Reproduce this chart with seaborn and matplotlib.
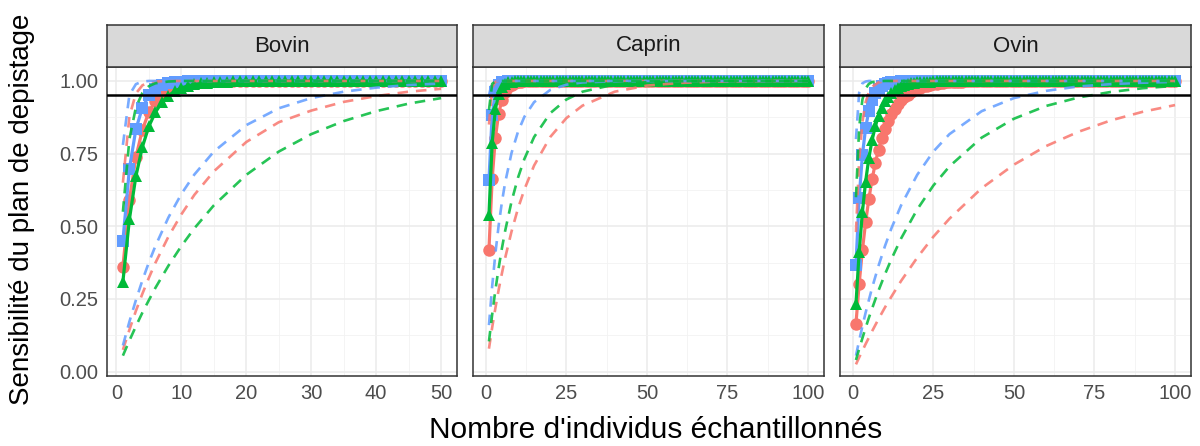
import matplotlib
matplotlib.use("Agg")
import matplotlib.pyplot as plt
import pandas as pd
import seaborn as sns

especes = ["Bovin", "Caprin", "Ovin"]
groupes = ["rouge", "bleu", "vert"]
couleurs = {"rouge": "#F8766D", "bleu": "#619CFF", "vert": "#00BA38"}
formes = {"rouge": "o", "bleu": "s", "vert": "^"}

# estimation centrale : un point par individu echantillonne (n = 1, 2, 3, ...)
bovin_rouge = [0.36, 0.59, 0.738, 0.832, 0.893, 0.931, 0.956, 0.972, 0.982, 0.988,
               0.993, 0.995, 0.997, 0.998, 0.999] + [1.0] * 35
bovin_bleu = [0.45, 0.698, 0.834, 0.908, 0.95, 0.972, 0.985, 0.992, 0.995, 0.997,
              0.999] + [1.0] * 39
bovin_vert = [0.31, 0.524, 0.672, 0.773, 0.844, 0.892, 0.926, 0.949, 0.965, 0.976,
              0.983, 0.988, 0.992, 0.994, 0.996, 0.997, 0.998, 0.999] + [1.0] * 32

caprin_rouge = [0.42, 0.664, 0.805, 0.887, 0.934, 0.962, 0.978, 0.987, 0.993, 0.996,
                0.998, 0.999] + [1.0] * 88
caprin_bleu = [0.66, 0.884, 0.961, 0.987, 0.995, 0.998, 0.999] + [1.0] * 93
caprin_vert = [0.54, 0.788, 0.903, 0.955, 0.979, 0.991, 0.996, 0.998, 0.999] + [1.0] * 91

ovin_rouge = [0.165, 0.303, 0.418, 0.514, 0.594, 0.661, 0.717, 0.764, 0.803, 0.835,
              0.862, 0.885, 0.904, 0.920, 0.933, 0.944, 0.953, 0.961, 0.968, 0.973,
              0.977, 0.981, 0.984, 0.987, 0.989, 0.991, 0.992, 0.994, 0.995, 0.996,
              0.997, 0.997, 0.998, 0.998, 0.999, 0.999] + [1.0] * 64
ovin_bleu = [0.366, 0.598, 0.745, 0.838, 0.898, 0.935, 0.959, 0.974, 0.983, 0.990,
             0.993, 0.996, 0.997, 0.998, 0.999] + [1.0] * 85
ovin_vert = [0.233, 0.412, 0.549, 0.654, 0.735, 0.796, 0.844, 0.880, 0.908, 0.930,
             0.946, 0.959, 0.968, 0.976, 0.981, 0.986, 0.989, 0.992, 0.994, 0.995,
             0.996, 0.997, 0.998, 0.998, 0.999] + [1.0] * 75

# bornes (pointilles), lues aux effectifs suivants
n_bovin = [1, 2, 3, 4, 5, 6, 8, 10, 12, 15, 20, 25, 30, 35, 40, 45, 50]
n_large = [1, 2, 3, 4, 5, 6, 8, 10, 12, 15, 20, 25, 30, 40, 50, 60, 70, 80, 90, 100]

bovin_bas_rouge = [0.075, 0.144, 0.209, 0.268, 0.323, 0.374, 0.464, 0.541, 0.608, 0.689,
                   0.790, 0.858, 0.898, 0.928, 0.948, 0.963, 0.973]
bovin_bas_bleu = [0.09, 0.172, 0.246, 0.314, 0.376, 0.432, 0.530, 0.611, 0.678, 0.757,
                  0.848, 0.906, 0.941, 0.963, 0.977, 0.986, 0.991]
bovin_bas_vert = [0.055, 0.107, 0.156, 0.203, 0.246, 0.288, 0.364, 0.432, 0.493, 0.572,
                  0.677, 0.757, 0.817, 0.862, 0.896, 0.922, 0.941]
bovin_haut_rouge = [0.65, 0.878, 0.957, 0.985, 0.995, 0.998] + [1.0] * 11
bovin_haut_bleu = [0.78, 0.952, 0.989, 0.998] + [1.0] * 13
bovin_haut_vert = [0.55, 0.80, 0.909, 0.959, 0.982, 0.992, 0.998] + [1.0] * 10

caprin_bas_rouge = [0.079, 0.152, 0.219, 0.281, 0.337, 0.390, 0.482, 0.561, 0.627, 0.709,
                    0.807, 0.872, 0.915, 0.963, 0.984, 0.993, 0.997, 0.999, 1.0, 1.0]
caprin_bas_bleu = [0.16, 0.294, 0.407, 0.502, 0.582, 0.649, 0.752, 0.825, 0.877, 0.927,
                   0.969, 0.987, 0.995, 0.999] + [1.0] * 6
caprin_bas_vert = [0.104, 0.197, 0.281, 0.356, 0.423, 0.483, 0.585, 0.667, 0.732, 0.807,
                   0.889, 0.936, 0.963, 0.988, 0.996, 0.999] + [1.0] * 4
caprin_haut_rouge = [0.85, 0.978, 0.997] + [1.0] * 17
caprin_haut_bleu = [0.95, 0.998] + [1.0] * 18
caprin_haut_vert = [0.90, 0.99, 0.999] + [1.0] * 17

ovin_bas_rouge = [0.025, 0.049, 0.072, 0.095, 0.117, 0.139, 0.181, 0.221, 0.258, 0.312,
                  0.392, 0.464, 0.526, 0.631, 0.712, 0.776, 0.825, 0.864, 0.894, 0.917]
ovin_bas_bleu = [0.055, 0.107, 0.156, 0.203, 0.246, 0.288, 0.364, 0.432, 0.493, 0.572,
                 0.677, 0.757, 0.817, 0.896, 0.941, 0.966, 0.981, 0.989, 0.994, 0.997]
ovin_bas_vert = [0.04, 0.078, 0.115, 0.151, 0.185, 0.217, 0.279, 0.335, 0.387, 0.458,
                 0.558, 0.640, 0.706, 0.805, 0.870, 0.914, 0.943, 0.962, 0.975, 0.983]
ovin_haut_rouge = [0.48, 0.73, 0.859, 0.927, 0.962, 0.980, 0.995, 0.999] + [1.0] * 12
ovin_haut_bleu = [0.80, 0.96, 0.992, 0.998] + [1.0] * 16
ovin_haut_vert = [0.60, 0.84, 0.936, 0.974, 0.99, 0.996, 0.999] + [1.0] * 13

seuil = 0.95

central = {
    "Bovin": {"rouge": bovin_rouge, "bleu": bovin_bleu, "vert": bovin_vert},
    "Caprin": {"rouge": caprin_rouge, "bleu": caprin_bleu, "vert": caprin_vert},
    "Ovin": {"rouge": ovin_rouge, "bleu": ovin_bleu, "vert": ovin_vert},
}
bornes = {
    "Bovin": (n_bovin, {"bas": {"rouge": bovin_bas_rouge, "bleu": bovin_bas_bleu, "vert": bovin_bas_vert},
                        "haut": {"rouge": bovin_haut_rouge, "bleu": bovin_haut_bleu, "vert": bovin_haut_vert}}),
    "Caprin": (n_large, {"bas": {"rouge": caprin_bas_rouge, "bleu": caprin_bas_bleu, "vert": caprin_bas_vert},
                         "haut": {"rouge": caprin_haut_rouge, "bleu": caprin_haut_bleu, "vert": caprin_haut_vert}}),
    "Ovin": (n_large, {"bas": {"rouge": ovin_bas_rouge, "bleu": ovin_bas_bleu, "vert": ovin_bas_vert},
                       "haut": {"rouge": ovin_haut_rouge, "bleu": ovin_haut_bleu, "vert": ovin_haut_vert}}),
}

rows = []
for esp in especes:
    for g in groupes:
        vals = central[esp][g]
        for n, v in zip(range(1, len(vals) + 1), vals):
            rows.append((esp, g, n, v))
df_central = pd.DataFrame(rows, columns=["espece", "groupe", "n", "se"])

rows = []
for esp in especes:
    ns, d = bornes[esp]
    for b in ["bas", "haut"]:
        for g in groupes:
            for n, v in zip(ns, d[b][g]):
                rows.append((esp, g, b, n, v))
df_bornes = pd.DataFrame(rows, columns=["espece", "groupe", "borne", "n", "se"])

sns.set_style("white")
plt.rcParams["font.family"] = ["Liberation Sans", "DejaVu Sans"]

W, H = 1200, 446
fig = plt.figure(figsize=(12, 4.46), dpi=100)
panneaux = {"Bovin": (107, 457), "Caprin": (473, 824), "Ovin": (840, 1191)}
top, bottom, strip_top = 67, 376, 25
grey20 = "#333333"

for i, esp in enumerate(especes):
    x0, x1 = panneaux[esp]
    ax = fig.add_axes([x0 / W, 1 - bottom / H, (x1 - x0) / W, (bottom - top) / H])

    sns.lineplot(data=df_central[df_central.espece == esp], x="n", y="se",
                 hue="groupe", style="groupe", hue_order=groupes, style_order=groupes,
                 palette=couleurs, markers=formes, dashes=False, lw=2.3, markersize=9,
                 markeredgewidth=0, legend=False, ax=ax, zorder=3)
    sns.lineplot(data=df_bornes[df_bornes.espece == esp], x="n", y="se",
                 hue="groupe", units="borne", estimator=None, hue_order=groupes,
                 palette=couleurs, lw=1.9, alpha=0.85, linestyle=(0, (4, 3)),
                 legend=False, ax=ax, zorder=4)
    ax.axhline(seuil, color="black", lw=1.8, zorder=5)

    if esp == "Bovin":
        ax.set_xlim(-1.45, 52.45)
        ax.set_xticks([0, 10, 20, 30, 40, 50])
        ax.set_xticks([5, 15, 25, 35, 45], minor=True)
    else:
        ax.set_xlim(-3.95, 104.95)
        ax.set_xticks([0, 25, 50, 75, 100])
        ax.set_xticks([12.5, 37.5, 62.5, 87.5], minor=True)
    ax.set_ylim(-0.015, 1.048)
    ax.set_yticks([0, 0.25, 0.5, 0.75, 1.0])
    ax.set_yticks([0.125, 0.375, 0.625, 0.875], minor=True)
    ax.set_yticklabels(["0.00", "0.25", "0.50", "0.75", "1.00"])

    ax.grid(which="major", color="#EBEBEB", lw=1.1)
    ax.grid(which="minor", color="#F2F2F2", lw=0.6)
    ax.set_axisbelow(True)
    for s in ax.spines.values():
        s.set_color(grey20)
        s.set_linewidth(1.1)
    ax.tick_params(which="major", length=4, width=1.1, color=grey20,
                   labelsize=14.5, labelcolor="#4D4D4D", pad=2)
    ax.tick_params(which="minor", length=0)
    if i > 0:
        ax.tick_params(axis="y", left=False, labelleft=False)
    ax.set_xlabel("")
    ax.set_ylabel("")

    sa = fig.add_axes([x0 / W, 1 - top / H, (x1 - x0) / W, (top - strip_top) / H])
    sa.set_facecolor("#D9D9D9")
    sa.set_xticks([])
    sa.set_yticks([])
    for s in sa.spines.values():
        s.set_color(grey20)
        s.set_linewidth(1.1)
    sa.text(0.5, 0.5, esp, ha="center", va="center", fontsize=16, color="#1A1A1A",
            transform=sa.transAxes)

fig.text(656 / W, 1 - 430 / H, "Nombre d'individus échantillonnés", ha="center",
         va="center", fontsize=21.5, color="black")
fig.text(22 / W, 1 - 209 / H, "Sensibilité du plan de depistage", ha="center",
         va="center", rotation=90, fontsize=20, color="black")

fig.savefig("out.png", dpi=100)
